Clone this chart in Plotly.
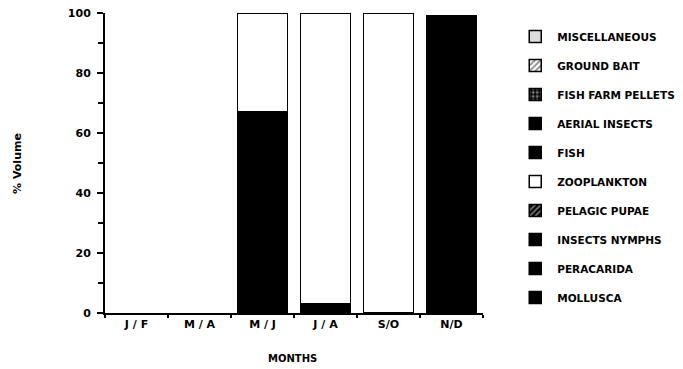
import plotly.graph_objects as go

months = ["J/F", "M/A", "M/J", "J/A", "S/O", "N/D"]
month_labels = ["J / F", "M / A", "M / J", "J / A", "S/O", "N/D"]

mollusca = [0, 0, 0, 0, 0, 0]
peracarida = [0, 0, 0, 3, 0, 0]
insects_nymphs = [0, 0, 67, 0, 0, 0]
pelagic_pupae = [0, 0, 0, 0, 0, 0]
zooplankton = [0, 0, 33, 97, 100, 0]
fish = [0, 0, 0, 0, 0, 99]
aerial_insects = [0, 0, 0, 0, 0, 0]
fish_farm_pellets = [0, 0, 0, 0, 0, 0]
ground_bait = [0, 0, 0, 0, 0, 0]
miscellaneous = [0, 0, 0, 0, 0, 0]

y_ticks = [0, 20, 40, 60, 80, 100]

series = [
    ("MOLLUSCA", mollusca, "black", "", "white"),
    ("PERACARIDA", peracarida, "black", "", "white"),
    ("INSECTS NYMPHS", insects_nymphs, "black", "", "white"),
    ("PELAGIC PUPAE", pelagic_pupae, "black", "/", "white"),
    ("ZOOPLANKTON", zooplankton, "white", "", "black"),
    ("FISH", fish, "black", "", "white"),
    ("AERIAL INSECTS", aerial_insects, "black", "", "white"),
    ("FISH FARM PELLETS", fish_farm_pellets, "black", ".", "white"),
    ("GROUND BAIT", ground_bait, "white", "/", "black"),
    ("MISCELLANEOUS", miscellaneous, "#dddddd", "", "black"),
]

fig = go.Figure()
n = len(series)
for i, (name, vals, color, shape, fg) in enumerate(series):
    fig.add_trace(go.Bar(
        x=months, y=[v if v else None for v in vals], name=name,
        legendgroup=name, legendrank=n - i,
        marker=dict(color=color, line=dict(color="black", width=1.5),
                    pattern=dict(shape=shape, fgcolor=fg, bgcolor=color, size=5, solidity=0.4)),
    ))

FAM = "DejaVu Sans, Liberation Sans, Arial, sans-serif"
tickfnt = dict(family=FAM, size=11, color="black", weight="bold")
legfnt = dict(family=FAM, size=10.5, color="black", weight="bold")
ytitlefnt = dict(family=FAM, size=11, color="black", weight="bold")
xtitlefnt = dict(family=FAM, size=10, color="black", weight="bold")

fig.update_layout(
    barmode="stack",
    bargap=0.2,
    width=683, height=369,
    margin=dict(l=97, r=208, t=5, b=64, autoexpand=False),
    paper_bgcolor="white", plot_bgcolor="white",
    showlegend=True,
    legend=dict(
        x=1.08, y=0.97, xanchor="left", yanchor="top",
        traceorder="grouped", tracegroupgap=10, maxheight=400,
        font=legfnt, itemwidth=34, bgcolor="rgba(0,0,0,0)",
    ),
    xaxis=dict(
        automargin=False,
        tickmode="array", tickvals=months, ticktext=month_labels,
        showline=True, linecolor="black", linewidth=2,
        ticks="outside", tickson="boundaries", ticklen=3, tickwidth=1.5, tickcolor="black",
        tickfont=tickfnt, showgrid=False, zeroline=False, ticklabeloverflow="allow",
    ),
    yaxis=dict(
        automargin=False,
        range=[0, 100], tickvals=y_ticks,
        showline=True, linecolor="black", linewidth=2,
        ticks="outside", ticklen=6, tickwidth=1.5, tickcolor="black",
        ticklabelstandoff=4, ticklabeloverflow="allow",
        minor=dict(dtick=10, ticks="outside", ticklen=5, tickcolor="black", tickwidth=1.5),
        tickfont=tickfnt, showgrid=False, zeroline=False,
    ),
    annotations=[
        dict(text="MONTHS", xref="paper", yref="paper", x=0.495, y=-0.15,
             xanchor="center", yanchor="middle", showarrow=False, font=xtitlefnt),
        dict(text="% Volume", xref="paper", yref="paper", x=-0.23, y=0.497,
             xanchor="center", yanchor="middle", showarrow=False, textangle=-90, font=ytitlefnt),
    ],
)

fig.write_html("out.html")
